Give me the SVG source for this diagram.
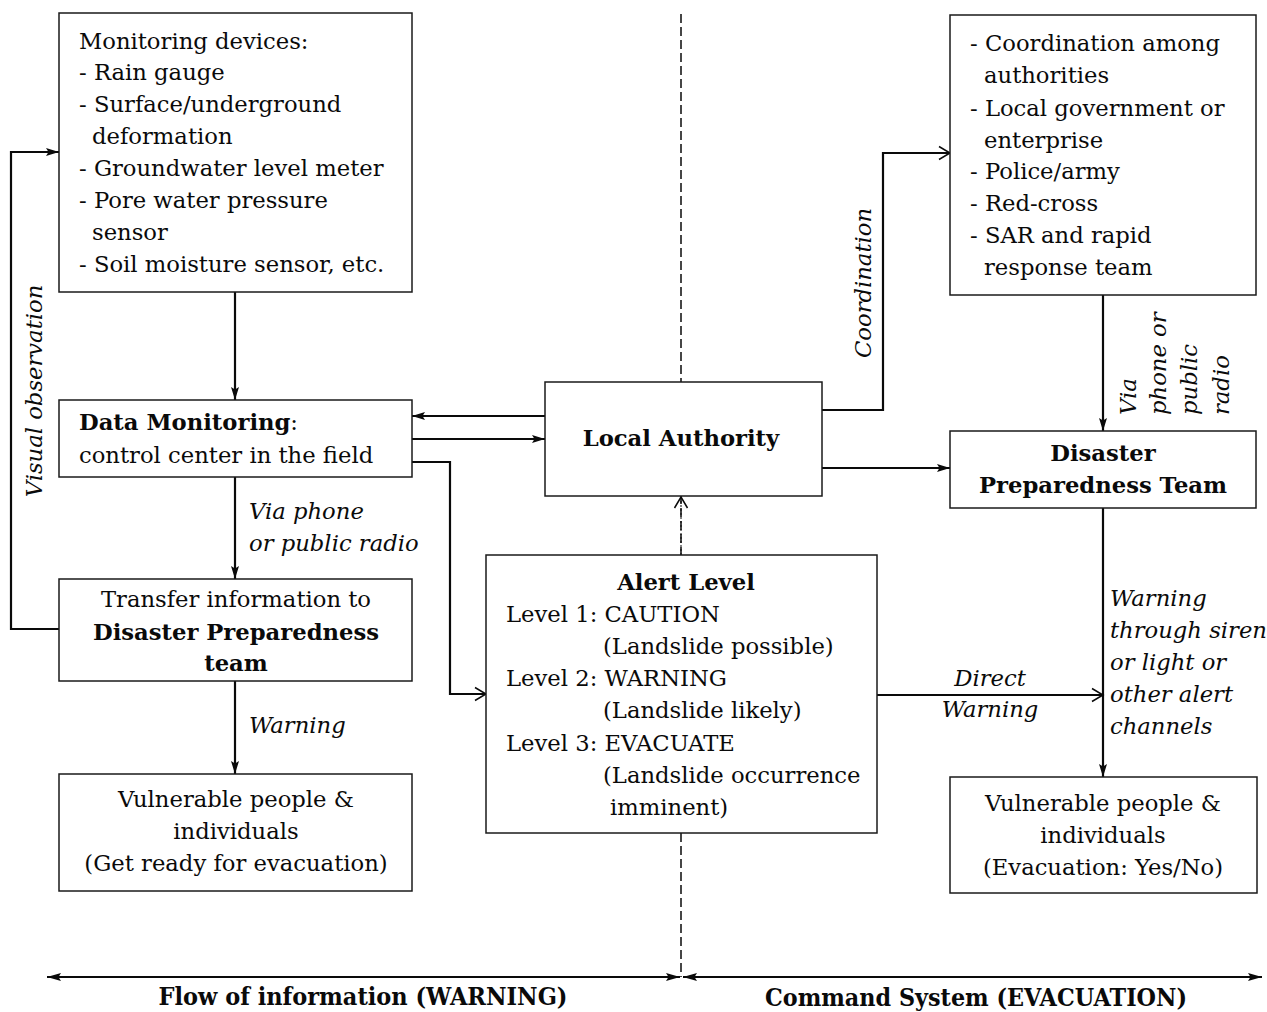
<svg xmlns="http://www.w3.org/2000/svg" width="1267" height="1012" viewBox="0 0 1267 1012">
<style>
text{font-family:"DejaVu Serif","Liberation Serif",serif;font-size:22.7px;fill:#0a0a0a}
.b{font-weight:bold}
.i{font-style:italic}
.m{text-anchor:middle}
.box{fill:#fff;stroke:#1a1a1a;stroke-width:1.5}
.c{fill:none;stroke:#0a0a0a;stroke-width:2.2}
</style>
<defs>
<marker id="af" markerWidth="14" markerHeight="10" refX="13" refY="5" orient="auto" markerUnits="userSpaceOnUse"><path d="M0,1 L13,5 L0,9 L2.5,5 Z" fill="#0a0a0a"/></marker>
<marker id="ab" markerWidth="15" markerHeight="10" refX="14" refY="5" orient="auto-start-reverse" markerUnits="userSpaceOnUse"><path d="M0,1 L14,5 L0,9 L2.5,5 Z" fill="#0a0a0a"/></marker>
<marker id="ao" markerWidth="14" markerHeight="16" refX="12" refY="8" orient="auto" markerUnits="userSpaceOnUse"><path d="M1,1.5 L12,8 L1,14.5" fill="none" stroke="#0a0a0a" stroke-width="1.5"/></marker>
</defs>
<line x1="681" y1="14" x2="681" y2="977" stroke="#0a0a0a" stroke-width="1.5" stroke-dasharray="9,4"/>
<g id="connectors">
<path class="c" d="M235,292 V400" marker-end="url(#af)"/>
<path class="c" d="M545,416 H412" marker-end="url(#af)"/>
<path class="c" d="M412,439 H545" marker-end="url(#af)"/>
<path class="c" d="M412,462 H450 V694 H486" marker-end="url(#ao)"/>
<path class="c" d="M235,477 V579" marker-end="url(#af)"/>
<path class="c" d="M235,681 V774" marker-end="url(#af)"/>
<path class="c" d="M59,629 H11 V152 H59" marker-end="url(#af)"/>
<path class="c" d="M822,410 H883 V153 H950" marker-end="url(#ao)"/>
<path class="c" d="M822,468 H950" marker-end="url(#af)"/>
<path class="c" d="M1103,295 V431" marker-end="url(#af)"/>
<path class="c" d="M1103,508 V777" marker-end="url(#af)"/>
<path class="c" d="M877,695 H1103" marker-end="url(#ao)"/>
<path d="M681,555 V497" fill="none" stroke="#0a0a0a" stroke-width="1" stroke-dasharray="2,2" marker-end="url(#ao)"/>
<path class="c" d="M47,977 H680" marker-start="url(#ab)" marker-end="url(#ab)"/>
<path class="c" d="M683,977 H1262" marker-start="url(#ab)" marker-end="url(#ab)"/>
</g>
<g id="monitoring-devices">
<rect class="box" x="59" y="13" width="353" height="279"/>
<text x="79" y="49">Monitoring devices:</text>
<text x="79" y="80">- Rain gauge</text>
<text x="79" y="112">- Surface/underground</text>
<text x="92" y="144">deformation</text>
<text x="79" y="176">- Groundwater level meter</text>
<text x="79" y="208">- Pore water pressure</text>
<text x="92" y="240">sensor</text>
<text x="79" y="272">- Soil moisture sensor, etc.</text>
</g>
<g id="data-monitoring">
<rect class="box" x="59" y="400" width="353" height="77"/>
<text x="79" y="430"><tspan class="b">Data Monitoring</tspan>:</text>
<text x="79" y="463">control center in the field</text>
</g>
<g id="transfer-info">
<rect class="box" x="59" y="579" width="353" height="102"/>
<text class="m" x="236" y="607">Transfer information to</text>
<text class="m b" x="236" y="640">Disaster Preparedness</text>
<text class="m b" x="236" y="671">team</text>
</g>
<g id="vulnerable-left">
<rect class="box" x="59" y="774" width="353" height="117"/>
<text class="m" x="236" y="807">Vulnerable people &amp;</text>
<text class="m" x="236" y="839">individuals</text>
<text class="m" x="236" y="871">(Get ready for evacuation)</text>
</g>
<g id="local-authority">
<rect class="box" x="545" y="382" width="277" height="114"/>
<text class="m b" x="681" y="446">Local Authority</text>
</g>
<g id="alert-level">
<rect class="box" x="486" y="555" width="391" height="278"/>
<text class="m b" x="686" y="590">Alert Level</text>
<text x="506" y="622">Level 1: CAUTION</text>
<text x="603" y="654">(Landslide possible)</text>
<text x="506" y="686">Level 2: WARNING</text>
<text x="603" y="718">(Landslide likely)</text>
<text x="506" y="751">Level 3: EVACUATE</text>
<text x="603" y="783">(Landslide occurrence</text>
<text x="610" y="815">imminent)</text>
</g>
<g id="authorities">
<rect class="box" x="950" y="15" width="306" height="280"/>
<text x="970" y="51">- Coordination among</text>
<text x="984" y="83">authorities</text>
<text x="970" y="116">- Local government or</text>
<text x="984" y="148">enterprise</text>
<text x="970" y="179">- Police/army</text>
<text x="970" y="211">- Red-cross</text>
<text x="970" y="243">- SAR and rapid</text>
<text x="984" y="275">response team</text>
</g>
<g id="dpt">
<rect class="box" x="950" y="431" width="306" height="77"/>
<text class="m b" x="1103" y="461">Disaster</text>
<text class="m b" x="1103" y="493">Preparedness Team</text>
</g>
<g id="vulnerable-right">
<rect class="box" x="950" y="777" width="307" height="116"/>
<text class="m" x="1103" y="811">Vulnerable people &amp;</text>
<text class="m" x="1103" y="843">individuals</text>
<text class="m" x="1103" y="875">(Evacuation: Yes/No)</text>
</g>
<g id="labels">
<text class="i" x="249" y="519">Via phone</text>
<text class="i" x="249" y="551">or public radio</text>
<text class="i" x="249" y="733">Warning</text>
<text class="i m" x="990" y="686">Direct</text>
<text class="i m" x="990" y="717">Warning</text>
<text class="i" x="1110" y="606">Warning</text>
<text class="i" x="1110" y="638">through siren</text>
<text class="i" x="1110" y="670">or light or</text>
<text class="i" x="1110" y="702">other alert</text>
<text class="i" x="1110" y="734">channels</text>
<text class="i m" transform="translate(42,391) rotate(-90)">Visual observation</text>
<text class="i m" transform="translate(871,283) rotate(-90)">Coordination</text>
<text class="i" transform="translate(1136,415) rotate(-90)">Via</text>
<text class="i" transform="translate(1166,415) rotate(-90)">phone or</text>
<text class="i" transform="translate(1197,415) rotate(-90)">public</text>
<text class="i" transform="translate(1229,415) rotate(-90)">radio</text>
<text class="b m" x="363" y="1005" style="font-size:25px" textLength="409" lengthAdjust="spacingAndGlyphs">Flow of information (WARNING)</text>
<text class="b m" x="976" y="1006" style="font-size:25px" textLength="422" lengthAdjust="spacingAndGlyphs">Command System (EVACUATION)</text>
</g>
</svg>
